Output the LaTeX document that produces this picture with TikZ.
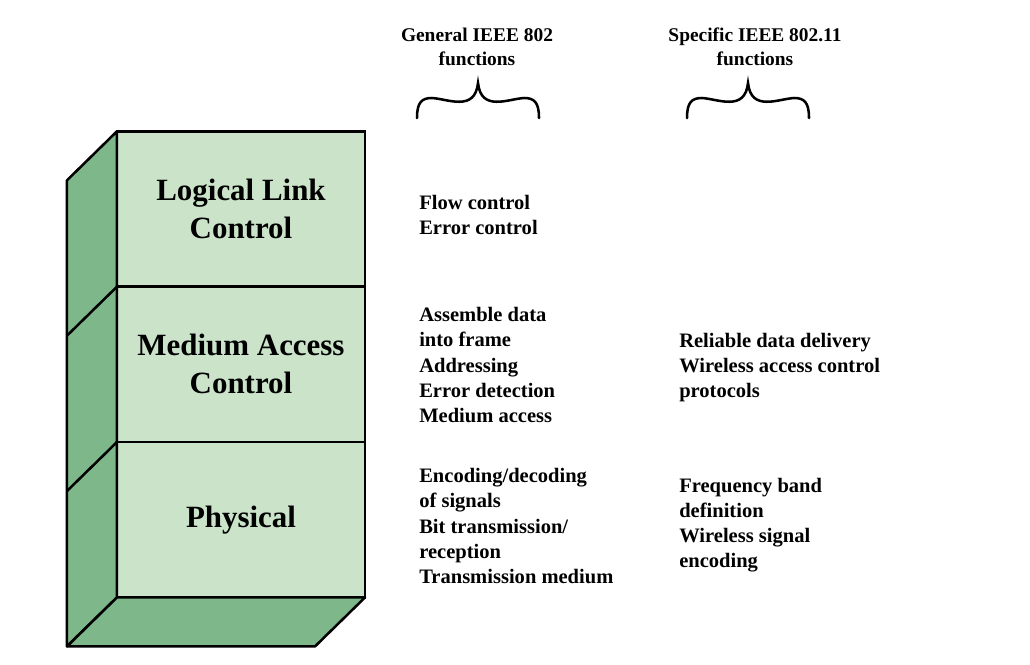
\documentclass[tikz,border=0pt]{standalone}
\usepackage{fontspec}
\setmainfont{Liberation Serif}
\usepackage{tikz}
\usetikzlibrary{positioning}
\usepackage{xcolor}
\definecolor{verdeclaro}{RGB}{202,227,201}
\definecolor{verdeoscuro}{RGB}{126,184,138}

\begin{document}
\begin{tikzpicture}[x=0.025cm, y=-0.025cm,
        capa/.style={draw, line width=1.8pt, fill=verdeclaro, minimum width=6.2cm,
            minimum height=3.883cm, inner sep=0pt, outer sep=0pt, align=center,
            font=\fontsize{22}{27}\selectfont\bfseries},
        cara/.style={draw, line width=1.8pt, fill=verdeoscuro, line join=round},
        funcion/.style={anchor=west, inner sep=0pt, align=left,
            font=\fontsize{14.6}{17.8}\selectfont\bfseries},
        titulo/.style={inner sep=0pt, align=center,
            font=\fontsize{13.8}{17}\selectfont\bfseries},
        llave/.style={line width=1.8pt, line cap=round}]

        % Marco
        \useasboundingbox (0,0) rectangle (1030,664);

        % Capas (cara frontal)
        \node[capa] (llc) at (241,209) {Logical Link\\Control};
        \node[capa, below=0pt of llc] (mac) {Medium Access\\Control};
        \node[capa, below=0pt of mac] (phy) {Physical};

        % Caras lateral e inferior
        \draw[cara] (llc.north west) -- ++(-50,49) -- ++(0,466) -- (phy.south west) -- cycle;
        \draw[cara] (phy.south west) -- (phy.south east) -- ++(-50,49) -- ++(-248,0) -- cycle;
        \foreach \c in {mac,phy}
            \draw[line width=1.8pt] (\c.north west) -- ++(-50,49);

        % Encabezados
        \node[titulo] (gen) at (477,47) {General IEEE 802\\functions};
        \node[titulo] (esp) at (755,47) {Specific IEEE 802.11\\functions};

        % Llaves
        \foreach \cx in {478,748}
            \draw[llave, shift={(\cx,0)}] (-61,118) .. controls (-61,102) and (-56,98) .. (-46,98)
                .. controls (-30,99) and (-3,112) .. (0,83)
                .. controls (3,112) and (30,99) .. (46,98)
                .. controls (56,98) and (61,102) .. (61,118);

        % Funciones por capa
        \node[funcion] (llcgen) at (419,215) {Flow control\\Error control};
        \node[funcion] (macgen) at (419,365) {Assemble data\\into frame\\Addressing\\Error detection\\Medium access};
        \node[funcion] (phygen) at (419,526) {Encoding/decoding\\of signals\\Bit transmission/\\reception\\Transmission medium};
        \node[funcion] (macesp) at (679,368) {Reliable data delivery\\Wireless access control\\protocols};
        \node[funcion] (phyesp) at (679,525) {Frequency band\\definition\\Wireless signal\\encoding};
    \end{tikzpicture}
\end{document}
